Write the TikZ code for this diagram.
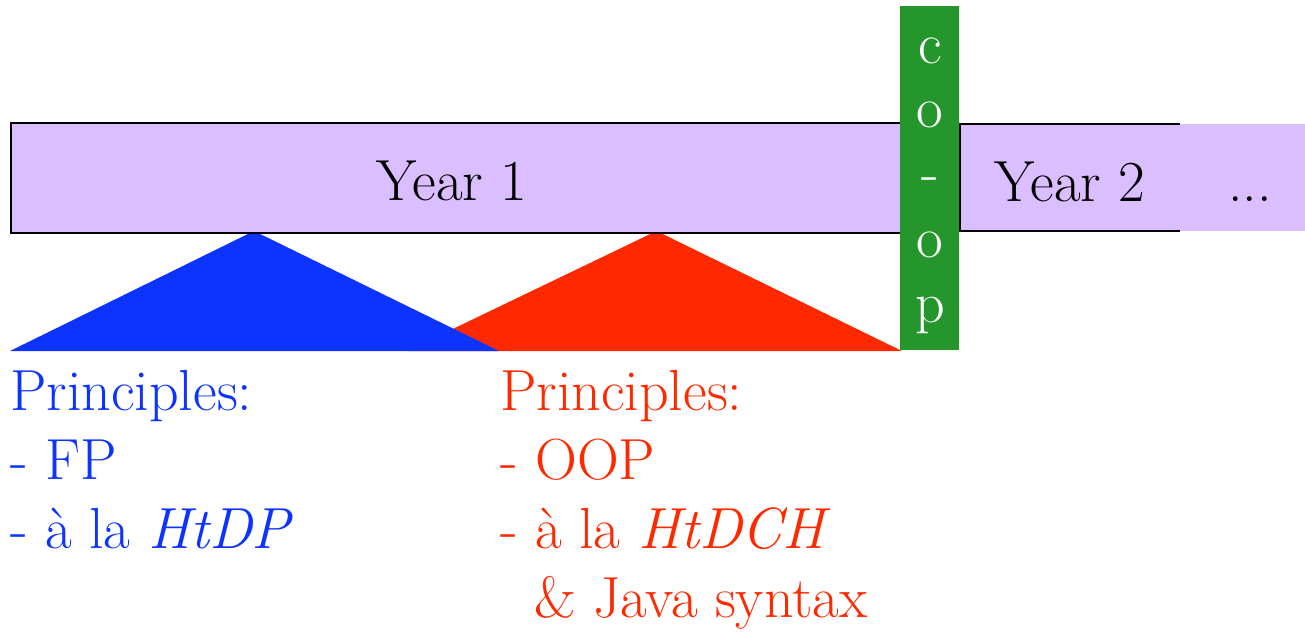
\documentclass[tikz,border=0pt]{standalone}
\definecolor{lavender}{RGB}{219,190,255}
\definecolor{fpblue}{RGB}{13,52,255}
\definecolor{oopred}{RGB}{255,41,0}
\definecolor{coopgreen}{RGB}{36,150,44}
\tikzset{
  big/.style={font=\fontsize{58}{69}\selectfont, inner sep=0pt},
  yearbox/.style={draw=black, line width=2pt, fill=lavender, inner sep=0pt},
  edge/.style={draw=black, line width=2pt},
}
\begin{document}
\begin{tikzpicture}[x=1pt, y=-1pt]
\useasboundingbox (0,0) rectangle (1305,632);

% course triangles hanging under the first year
\fill[oopred] (407,351) -- (656.5,231) -- (902,351) -- cycle;
\fill[fpblue] (10,351) -- (254,231) -- (499,351) -- cycle;

% year one
\node[yearbox, minimum width=890pt, minimum height=110pt, anchor=north west] (year1) at (10,122) {};
\node[big, anchor=base] (year1label) at (452,200) {Year 1};

% year two, open to the right
\fill[lavender] (960,124) rectangle (1305,231);
\coordinate (y2tr) at (1180,124);
\coordinate (y2tl) at (960,124);
\coordinate (y2bl) at (960,231);
\coordinate (y2br) at (1180,231);
\draw[edge] (y2tr) -- (y2tl) -- (y2bl) -- (y2br);
\node[big, anchor=base] (year2label) at (1070,201) {Year 2};
\node[big, anchor=base] (more) at (1250,201) {...};

% co-op term
\node[fill=coopgreen, minimum width=59pt, minimum height=344pt, inner sep=0pt, anchor=north west] (coop) at (900,6) {};
\foreach \ch/\yb [count=\i] in {c/63, o/127, -/191, o/257, p/322}
  \node[big, text=white, anchor=base] (coop\i) at (930,\yb) {\ch};

% functional track
\node[big, text=fpblue, anchor=base west] (fp1) at (10,410) {Principles:};
\node[big, text=fpblue, anchor=base west] (fp2) at (10,479) {- FP};
\node[big, text=fpblue, anchor=base west] (fp3) at (10,548) {- à la \textit{HtDP}};

% object-oriented track
\node[big, text=oopred, anchor=base west] (oo1) at (500,410) {Principles:};
\node[big, text=oopred, anchor=base west] (oo2) at (500,479) {- OOP};
\node[big, text=oopred, anchor=base west] (oo3) at (500,548) {- à la \textit{HtDCH}};
\node[big, text=oopred, anchor=base west] (oo4) at (534,617) {\& Java syntax};
\end{tikzpicture}
\end{document}
